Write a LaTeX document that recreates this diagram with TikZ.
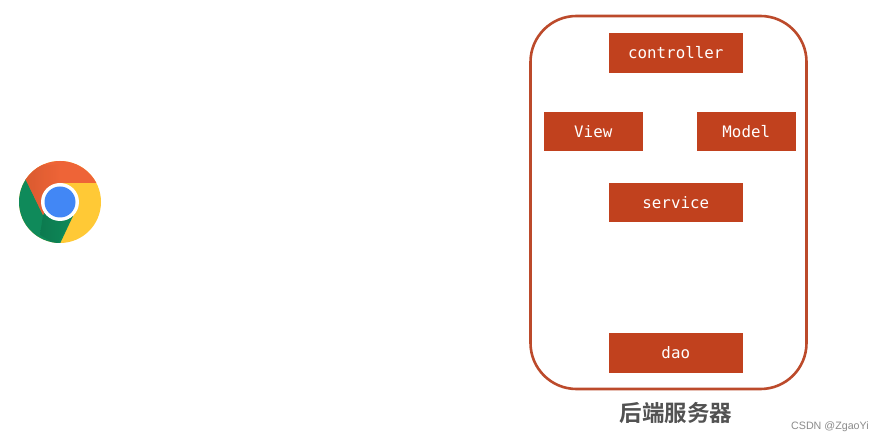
\documentclass[tikz,border=0pt]{standalone}
\usepackage{fontspec}
\setmonofont{DejaVu Sans Mono}
\newfontfamily\cjkbold[BoldFont={Noto Sans CJK SC Bold}]{Noto Sans CJK SC}
\newfontfamily\wmfont{Liberation Sans}
\definecolor{brick}{HTML}{C1411E}
\definecolor{framec}{HTML}{BC4A2B}
\definecolor{chred}{HTML}{EE6437}
\definecolor{chreddark}{HTML}{D0562C}
\definecolor{chgreen}{HTML}{0F8A5A}
\definecolor{chgreendark}{HTML}{0B6B45}
\definecolor{chyellow}{HTML}{FFC936}
\definecolor{chblue}{HTML}{4287F5}
\tikzset{
  x=1pt,y=-1pt,
  layerbox/.style={fill=brick,draw=none,text=white,minimum height=39.5pt,inner sep=0pt,font=\fontsize{15.8}{18}\selectfont\ttfamily},
  widebox/.style={layerbox,minimum width=133.5pt},
  narrowbox/.style={layerbox,minimum width=98.5pt},
}
\begin{document}
\begin{tikzpicture}
\useasboundingbox (0,0) rectangle (883,443);
\fill[white] (0,0) rectangle (883,443);
% browser icon
\begin{scope}
\clip (60,202) circle[radius=41];
\fill[chyellow] (10,150) rectangle (110,250);
\fill[chgreen] (60,202) -- (73,216) -- (57,250) -- (0,250) -- (0,170) -- (25,178) -- cycle;
\shade[left color=chgreendark,right color=chgreen,opacity=.5] (43,215) -- (73,216) -- (57,245) -- (40,235) -- cycle;
\fill[chred] (60,183) -- (110,183) -- (110,150) -- (10,150) -- (10,160) -- (25,178) -- (43,215) -- cycle;
\shade[left color=chreddark,right color=chred,opacity=.8] (18,165) -- (60,165) -- (60,183) -- (43,215) -- (25,178) -- cycle;
\end{scope}
\fill[white] (60,202) circle[radius=19];
\fill[chblue] (60,202) circle[radius=15.5];
% server frame
\node[draw=framec,line width=2.6pt,rounded corners=46pt,minimum width=276pt,minimum height=373pt,inner sep=0pt] (frame) at (668.5,202.5) {};
\node[widebox] (controller) at (675.75,53) {controller};
\node[narrowbox] (view) at (593.25,131.5) {View};
\node[narrowbox] (model) at (746.25,131.5) {Model};
\node[widebox] (service) at (675.75,202.75) {service};
\node[widebox] (dao) at (675.75,352.75) {dao};
\node[text=black!68,font=\fontsize{22.5}{24}\selectfont\cjkbold\bfseries] (title) at (676,413) {后端服务器};
\node[text=black!45,font=\fontsize{10.7}{12}\selectfont\wmfont,anchor=east,inner sep=0pt] (mark) at (869,427) {CSDN @ZgaoYi};
\end{tikzpicture}
\end{document}
